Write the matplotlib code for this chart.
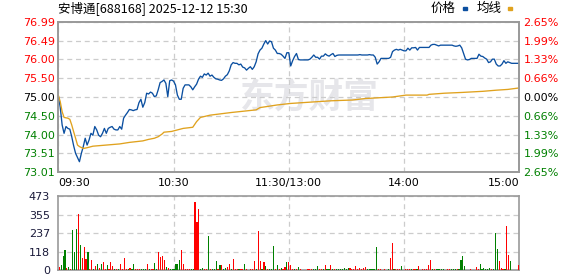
import numpy as np
import matplotlib.pyplot as plt
from matplotlib.patches import Rectangle

plt.rcParams['font.family'] = ['DejaVu Sans', 'Noto Sans CJK SC']

TITLE = "安博通[688168] 2025-12-12 15:30"
PREV_CLOSE = 75.00

# one price per minute, 09:30 .. 11:30 + 13:01 .. 15:00 (241 points)
price = [
    75.03, 74.73, 74.26, 74.04, 74.22, 74.17, 74.15, 73.95, 73.71, 73.51,
    73.40, 73.29, 73.51, 73.69, 73.91, 73.73, 73.86, 74.04, 73.99, 74.22,
    74.13, 73.99, 73.95, 74.04, 74.17, 74.04, 74.17, 74.20, 74.22, 74.15,
    74.13, 74.13, 74.22, 74.15, 74.44, 74.52, 74.59, 74.67, 74.66, 74.64,
    74.66, 74.67, 74.85, 74.94, 74.73, 74.85, 75.10, 75.08, 75.13, 75.10,
    75.01, 75.03, 75.19, 75.38, 75.41, 75.45, 75.36, 75.01, 75.43, 75.45,
    75.42, 75.32, 75.05, 74.94, 74.94, 75.23, 75.32, 75.32, 75.32, 75.27,
    75.19, 75.27, 75.34, 75.47, 75.55, 75.52, 75.61, 75.58, 75.63, 75.55,
    75.58, 75.52, 75.48, 75.47, 75.45, 75.44, 75.48, 75.55, 75.59, 75.69,
    75.85, 75.91, 75.89, 75.89, 75.85, 75.87, 75.79, 75.77, 75.71, 75.76,
    75.80, 75.73, 75.80, 75.93, 76.14, 76.24, 76.29, 76.40, 76.49, 76.40,
    76.48, 76.46, 76.29, 76.24, 76.15, 76.15, 76.13, 76.08, 76.02, 76.17,
    76.17, 75.82, 75.96, 76.07, 76.15, 75.99, 75.98, 75.98, 75.98, 75.98,
    75.98, 76.00, 76.05, 76.11, 76.05, 76.05, 76.00, 76.08, 76.08, 76.14,
    76.10, 76.08, 76.12, 76.15, 76.07, 76.10, 76.11, 76.11, 76.11, 76.11,
    76.11, 76.11, 76.11, 76.11, 76.11, 76.11, 76.11, 76.12, 76.11, 76.11,
    76.11, 76.11, 76.12, 76.11, 76.11, 76.05, 75.87, 75.93, 76.02, 76.02,
    76.02, 76.02, 76.02, 76.05, 76.20, 76.24, 76.26, 76.24, 76.26, 76.24,
    76.22, 76.22, 76.29, 76.24, 76.30, 76.30, 76.31, 76.24, 76.31, 76.31,
    76.31, 76.31, 76.31, 76.31, 76.37, 76.39, 76.39, 76.37, 76.35, 76.37,
    76.37, 76.37, 76.37, 76.37, 76.37, 76.37, 76.35, 76.34, 76.35, 76.37,
    76.30, 76.15, 76.00, 75.98, 75.99, 76.02, 76.02, 76.02, 76.02, 76.13,
    76.08, 76.07, 76.03, 76.00, 75.91, 75.93, 76.00, 76.00, 75.87, 75.82,
    75.82, 75.87, 75.96, 75.89, 75.93, 75.91, 75.89, 75.89, 75.89, 75.89,
    75.89,
]

# average price line, read at these minutes
avg_min = [0, 1, 2, 3, 5, 6, 7, 8, 9, 10, 11, 13, 15, 18, 25, 32, 37, 44, 47, 50,
           52, 54, 55, 59, 65, 70, 72, 74, 79, 90, 103, 105, 114, 121, 136, 142,
           153, 160, 167, 174, 181, 192, 193, 201, 210, 221, 228, 234, 240]
avg_val = [75.05, 74.88, 74.61, 74.46, 74.44, 74.41, 74.26, 74.08, 73.91, 73.73,
           73.69, 73.64, 73.66, 73.70, 73.73, 73.76, 73.80, 73.84, 73.88, 73.91,
           73.95, 74.02, 74.07, 74.09, 74.17, 74.20, 74.35, 74.46, 74.52, 74.59,
           74.66, 74.72, 74.79, 74.83, 74.88, 74.90, 74.92, 74.96, 74.98, 75.00,
           75.05, 75.05, 75.07, 75.10, 75.12, 75.15, 75.18, 75.20, 75.24]

volume = [
    20, 34, 91, 129, 15, 21, 8, 257, 116, 263,
    359, 162, 80, 149, 74, 116, 8, 66, 8, 25,
    38, 15, 38, 53, 8, 34, 8, 53, 25, 8,
    8, 8, 38, 8, 80, 8, 8, 15, 8, 38,
    8, 8, 8, 8, 8, 8, 38, 8, 8, 8,
    46, 8, 116, 85, 91, 66, 21, 15, 8, 8,
    8, 38, 38, 66, 129, 38, 8, 8, 8, 8,
    8, 435, 307, 390, 8, 15, 8, 8, 218, 8,
    8, 8, 60, 8, 34, 34, 8, 15, 21, 38,
    8, 74, 8, 8, 8, 8, 8, 38, 8, 0,
    8, 8, 60, 8, 250, 60, 8, 53, 25, 8,
    8, 8, 155, 8, 34, 8, 15, 8, 21, 53,
    53, 34, 8, 8, 8, 21, 8, 0, 0, 0,
    8, 8, 8, 8, 8, 25, 8, 8, 8, 34,
    8, 8, 34, 8, 8, 8, 8, 8, 8, 15,
    8, 15, 15, 8, 8, 25, 8, 15, 8, 15,
    21, 8, 8, 8, 8, 8, 148, 8, 8, 0,
    8, 0, 8, 78, 174, 8, 8, 8, 8, 25,
    0, 8, 8, 8, 8, 8, 8, 8, 25, 0,
    8, 8, 8, 34, 66, 8, 8, 8, 8, 8,
    8, 8, 0, 8, 8, 8, 8, 8, 8, 8,
    66, 91, 25, 0, 0, 8, 0, 0, 21, 8,
    38, 8, 15, 8, 8, 15, 8, 8, 238, 136,
    60, 15, 8, 8, 282, 97, 60, 0, 0, 0,
    34,
]

# 1 = up minute (red), 0 = down minute (green)
vol_up = [
    1, 0, 0, 0, 1, 0, 1, 0, 0, 0,
    1, 0, 1, 1, 1, 0, 1, 1, 0, 1,
    0, 1, 0, 1, 1, 0, 1, 1, 1, 0,
    1, 0, 1, 1, 1, 1, 0, 1, 0, 0,
    1, 1, 1, 0, 0, 0, 1, 0, 1, 1,
    0, 0, 1, 1, 1, 1, 0, 1, 0, 0,
    0, 0, 0, 0, 1, 1, 1, 1, 1, 0,
    0, 1, 1, 1, 0, 0, 1, 1, 0, 1,
    0, 0, 0, 1, 0, 1, 0, 0, 1, 1,
    0, 1, 1, 1, 0, 1, 1, 0, 1, 1,
    1, 1, 1, 0, 1, 1, 0, 1, 0, 1,
    0, 0, 0, 1, 0, 1, 0, 1, 1, 0,
    1, 1, 1, 0, 1, 0, 1, 1, 1, 1,
    1, 1, 1, 0, 0, 0, 1, 1, 0, 1,
    0, 0, 1, 0, 1, 0, 0, 0, 0, 0,
    0, 0, 1, 1, 1, 1, 1, 1, 1, 1,
    1, 0, 0, 0, 0, 0, 0, 1, 1, 1,
    1, 1, 0, 1, 1, 0, 1, 1, 1, 0,
    1, 1, 1, 1, 0, 1, 1, 0, 1, 1,
    1, 1, 1, 1, 1, 0, 1, 0, 0, 0,
    0, 0, 1, 1, 1, 0, 0, 0, 1, 0,
    0, 0, 0, 1, 1, 1, 1, 1, 1, 1,
    0, 0, 0, 0, 0, 0, 1, 0, 0, 0,
    1, 1, 1, 0, 1, 1, 0, 1, 1, 1,
    1,
]

price_ticks = [76.99, 76.49, 76.00, 75.50, 75.00, 74.50, 74.00, 73.51, 73.01]
pct_labels = ["2.65%", "1.99%", "1.33%", "0.66%", "0.00%", "0.66%", "1.33%", "1.99%", "2.65%"]
time_pos = [0, 60, 120, 180, 240]
time_labels = ["09:30", "10:30", "11:30/13:00", "14:00", "15:00"]
vol_ticks = [0, 118, 237, 355, 473]

RED = "#ff0000"
GREEN = "#008000"
BLUE = "#0b4fa0"
GOLD = "#e0a21e"
BORDER = "#999999"
GRID = "#cccccc"


def tick_color(v):
    if v > PREV_CLOSE + 1e-6:
        return RED
    if v < PREV_CLOSE - 1e-6:
        return GREEN
    return "black"


W, H = 578, 276
fig = plt.figure(figsize=(W / 100, H / 100), dpi=100)


def frac(x0, y0, x1, y1):
    return [x0 / W, 1 - y1 / H, (x1 - x0) / W, (y1 - y0) / H]


ax = fig.add_axes(frac(58.3, 21.7, 519.3, 172.3))
axv = fig.add_axes(frac(58.3, 196, 519.3, 270.3))

x = np.arange(len(price))

# main price panel
ax.plot(x, price, color=BLUE, lw=0.95, zorder=3)
ax.plot(avg_min, avg_val, color=GOLD, lw=0.95, zorder=3)
ax.set_xlim(0, 240)
ax.set_ylim(price_ticks[-1], price_ticks[0])
ax.set_yticks(price_ticks)
ax.set_yticklabels([f"{v:.2f}" for v in price_ticks], fontsize=8)
for lab, v in zip(ax.get_yticklabels(), price_ticks):
    lab.set_color(tick_color(v))
ax.set_xticks(time_pos)
ax.set_xticklabels(time_labels, fontsize=8)
xl = ax.get_xticklabels()
xl[0].set_ha("left")
xl[-1].set_ha("right")
ax.tick_params(length=0, pad=2.5)
ax.tick_params(axis="x", pad=4)
ax.grid(True, color=GRID, ls=(0, (4, 3)), lw=0.9)

ax2 = ax.twinx()
ax2.set_ylim(ax.get_ylim())
ax2.set_yticks(price_ticks)
ax2.set_yticklabels(pct_labels, fontsize=8)
for lab, v in zip(ax2.get_yticklabels(), price_ticks):
    lab.set_color(tick_color(v))
ax2.tick_params(length=0, pad=3)

for a in (ax, ax2, axv):
    for s in a.spines.values():
        s.set_color(BORDER)
        s.set_linewidth(1.2)

# watermark
ax.text(0.545, 0.5, "东方财富", transform=ax.transAxes, ha="center", va="center",
        fontsize=25, fontweight="bold", color="#e6e6ea",
        family=["Noto Sans CJK SC", "DejaVu Sans"], zorder=1)

# volume panel
colors = [RED if u else GREEN for u in vol_up]
axv.bar(x, volume, width=0.6, color=colors, zorder=3)
axv.set_xlim(-0.5, 240.5)
axv.set_ylim(0, vol_ticks[-1])
axv.set_yticks(vol_ticks)
axv.set_yticklabels([str(v) for v in vol_ticks], fontsize=8, color="#1a1a3a")
axv.set_xticks(time_pos[1:-1])
axv.set_xticklabels([])
axv.tick_params(length=0, pad=6)
axv.grid(True, color=GRID, ls=(0, (4, 3)), lw=0.9)

# title and legend
fig.text(58 / W, 1 - 8.5 / H, TITLE, fontsize=9, va="center", ha="left",
         family=["Noto Sans CJK SC", "DejaVu Sans"])
fig.text(431 / W, 1 - 8.5 / H, "价格", fontsize=9, va="center", ha="left",
         family=["Noto Sans CJK SC", "DejaVu Sans"])
fig.add_artist(Rectangle((463 / W, 1 - 10 / H), 4 / W, 3 / H, color=BLUE,
                         transform=fig.transFigure))
fig.text(477 / W, 1 - 8.5 / H, "均线", fontsize=9, va="center", ha="left",
         family=["Noto Sans CJK SC", "DejaVu Sans"])
fig.add_artist(Rectangle((508 / W, 1 - 10 / H), 4 / W, 3 / H, color=GOLD,
                         transform=fig.transFigure))

fig.savefig("out.png", dpi=100)
